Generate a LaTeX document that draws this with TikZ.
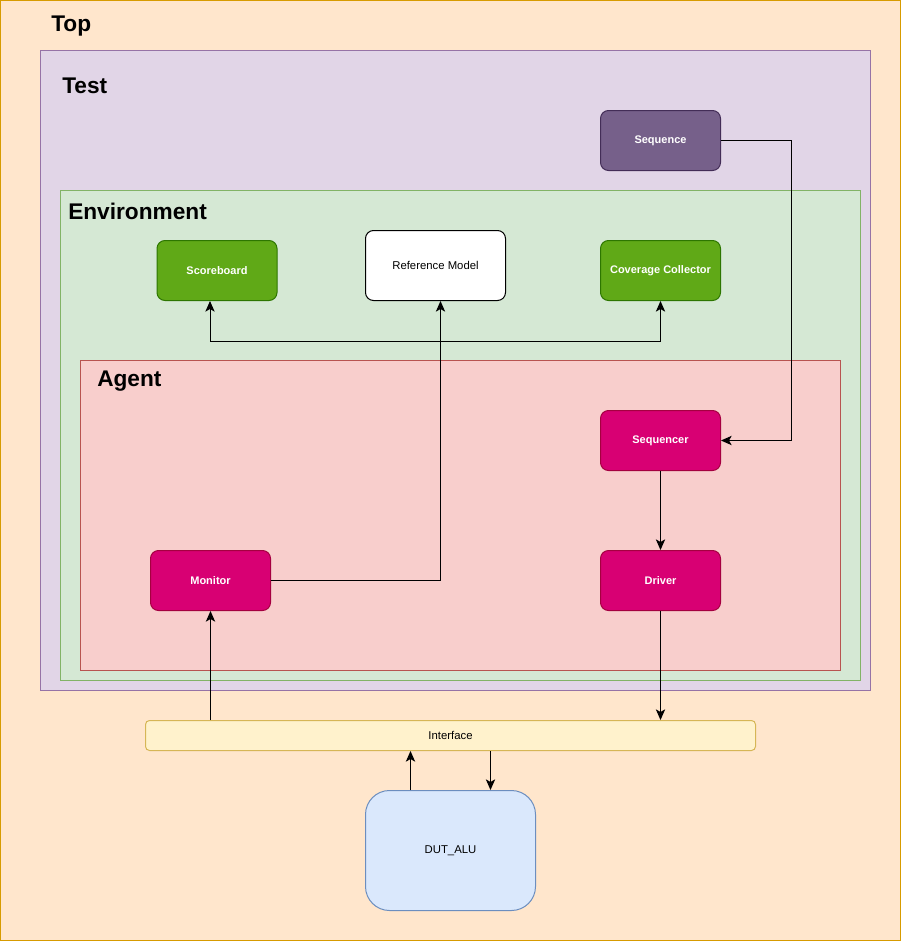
\documentclass[tikz,border=0pt]{standalone}
\usepackage{fontspec}
\setmainfont{Liberation Sans}
\usetikzlibrary{positioning}
\usetikzlibrary{arrows.meta}
\definecolor{topfill}{HTML}{FFE6CC}
\definecolor{topline}{HTML}{D79B00}
\definecolor{testfill}{HTML}{E1D5E7}
\definecolor{testline}{HTML}{9673A6}
\definecolor{envfill}{HTML}{D5E8D4}
\definecolor{envline}{HTML}{82B366}
\definecolor{agentfill}{HTML}{F8CECC}
\definecolor{agentline}{HTML}{B85450}
\definecolor{seqfill}{HTML}{76608A}
\definecolor{seqline}{HTML}{432D57}
\definecolor{grnfill}{HTML}{60A917}
\definecolor{grnline}{HTML}{2D7600}
\definecolor{magfill}{HTML}{D80073}
\definecolor{magline}{HTML}{A50040}
\definecolor{itffill}{HTML}{FFF2CC}
\definecolor{itfline}{HTML}{D6B656}
\definecolor{dutfill}{HTML}{DAE8FC}
\definecolor{dutline}{HTML}{6C8EBF}
\tikzset{
  blk/.style={rectangle,rounded corners=6pt,minimum width=90pt,minimum height=45pt,inner sep=0pt,line width=0.75pt,font=\fontsize{8.25}{10}\selectfont\bfseries,text=white},
  title/.style={anchor=west,inner sep=0pt,font=\fontsize{17}{20}\selectfont\bfseries},
  tip/.tip={Stealth[length=8pt,width=7pt,inset=2pt]},
  conn/.style={draw=black,line width=0.75pt,-tip}
}
\begin{document}
\begin{tikzpicture}[x=0.75pt,y=-0.75pt]
\useasboundingbox (0,0) rectangle (911,942);
\draw[fill=topfill,draw=topline,line width=0.75pt] (0.5,0.5) rectangle (900.5,940.5);
\draw[fill=testfill,draw=testline,line width=0.75pt] (40.5,50.5) rectangle (870.5,690.5);
\draw[fill=envfill,draw=envline,line width=0.75pt] (60.5,190.5) rectangle (860.5,680.5);
\draw[fill=agentfill,draw=agentline,line width=0.75pt] (80.5,360.5) rectangle (840.5,670.5);
\node[title] (toplbl) at (51,26) {Top};
\node[title] (testlbl) at (62,86) {Test};
\node[title] (envlbl) at (68,211) {Environment};
\node[title] (agentlbl) at (97,381) {Agent};

\node[blk,fill=seqfill,draw=seqline] (seq) at (660.5,140.5) {Sequence};
\node[blk,fill=grnfill,draw=grnline] (sb) at (217,270.5) {Scoreboard};
\node[blk,fill=white,draw=black,minimum width=105pt,minimum height=52.5pt,text=black,font=\fontsize{8.5}{10}\selectfont] (ref) at (435.5,265.5) {Reference Model};
\node[blk,fill=grnfill,draw=grnline] (cov) at (660.5,270.5) {Coverage Collector};
\node[blk,fill=magfill,draw=magline] (sqr) at (660.5,440.5) {Sequencer};
\node[blk,fill=magfill,draw=magline] (drv) at (660.5,580.5) {Driver};
\node[blk,fill=magfill,draw=magline] (mon) at (210.5,580.5) {Monitor};
\node[blk,fill=itffill,draw=itfline,rounded corners=3pt,minimum width=457.5pt,minimum height=22.5pt,text=black,font=\fontsize{8.5}{10}\selectfont] (itf) at (450.5,735.5) {Interface};
\node[blk,fill=dutfill,draw=dutline,rounded corners=18pt,minimum width=127.5pt,minimum height=90pt,text=black,font=\fontsize{8.5}{10}\selectfont] (dut) at (450.5,850.5) {DUT\_ALU};

\draw[conn] (seq.east) -- ++(70,0) |- (sqr.east);
\draw[conn,tip-tip] ([xshift=-5.25pt]sb.south) -- ++(0,40) -| (cov.south);
\draw[conn] (mon.east) -| ([xshift=3.75pt]ref.south);
\draw[conn] (sqr.south) -- (drv.north);
\draw[conn] (drv.south) -- (drv.south |- itf.north);
\draw[conn] (mon.south |- itf.north) -- (mon.south);
\draw[conn] ([xshift=-30pt]dut.north) -- ([xshift=-30pt]dut.north |- itf.south);
\draw[conn] ([xshift=30pt]dut.north |- itf.south) -- ([xshift=30pt]dut.north);
\end{tikzpicture}
\end{document}
